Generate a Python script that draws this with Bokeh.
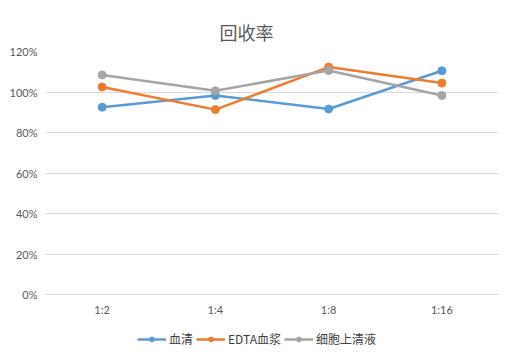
from bokeh.plotting import figure
from bokeh.layouts import column
from bokeh.models import ColumnDataSource, FactorRange, Range1d, FixedTicker, NumeralTickFormatter, Legend, LegendItem
from bokeh.embed import file_html
from bokeh.resources import INLINE

categories = ["1:2", "1:4", "1:8", "1:16"]
serum = [0.925, 0.983, 0.916, 1.105]
edta = [1.025, 0.913, 1.123, 1.044]
supernatant = [1.084, 1.006, 1.106, 0.983]
series_names = ["血清", "EDTA血浆", "细胞上清液"]
colors = ["#5B9BD5", "#ED7D31", "#A5A5A5"]
y_ticks = [0, 0.2, 0.4, 0.6, 0.8, 1.0, 1.2]

p = figure(width=505, height=318, output_backend="svg", toolbar_location=None,
           x_range=FactorRange(*categories, range_padding=0), y_range=Range1d(0, 1.2),
           min_border_left=45, min_border_right=7, min_border_top=51, min_border_bottom=23)
p.title.text = "回收率"
p.title.align = "left"
p.title.offset = 174
p.title.text_font = "Noto Sans CJK SC"
p.title.text_font_size = "18px"
p.title.text_font_style = "normal"
p.title.text_color = "#595959"
p.title.standoff = 14

p.outline_line_color = None
p.xgrid.grid_line_color = None
p.ygrid.grid_line_color = "#d9d9d9"
p.ygrid.grid_line_width = 1

p.yaxis.ticker = FixedTicker(ticks=y_ticks)
p.yaxis.formatter = NumeralTickFormatter(format="0%")
for ax in (p.xaxis, p.yaxis):
    ax.axis_line_color = None
    ax.major_tick_line_color = None
    ax.minor_tick_line_color = None
    ax.major_tick_out = 0
    ax.major_tick_in = 0
    ax.minor_tick_out = 0
    ax.minor_tick_in = 0
    ax.major_label_text_font = "Lato"
    ax.major_label_text_font_size = "11px"
    ax.major_label_text_color = "#595959"
p.xaxis.axis_line_color = "#d9d9d9"
p.xaxis.major_label_standoff = 8
p.yaxis.major_label_standoff = 8

# legend figure (its y range lies away from the data so only the legend shows)
lf = figure(width=505, height=32, output_backend="svg", toolbar_location=None,
            x_range=FactorRange(*categories, range_padding=0), y_range=Range1d(10, 11),
            min_border=0, x_axis_location=None, y_axis_location=None)
lf.outline_line_color = None
lf.grid.grid_line_color = None

items = []
for name, vals, c in zip(series_names, [serum, edta, supernatant], colors):
    src = ColumnDataSource(dict(x=categories, y=vals))
    p.line("x", "y", source=src, line_color=c, line_width=2.5)
    p.scatter("x", "y", source=src, size=8, fill_color=c, line_color=c)
    l = lf.line("x", "y", source=src, line_color=c, line_width=2.5)
    s = lf.scatter("x", "y", source=src, size=8, fill_color=c, line_color=c)
    items.append(LegendItem(label=name, renderers=[l, s]))

legend = Legend(items=items, orientation="horizontal", location=(92, 3),
                label_text_font="Noto Sans CJK SC", label_text_font_size="12px",
                label_text_color="#404040", glyph_width=29, glyph_height=12,
                label_standoff=3, spacing=3, padding=2, margin=0,
                border_line_color=None, background_fill_alpha=0)
lf.add_layout(legend, "center")

layout = column(p, lf, spacing=0)
open("out.html", "w").write(file_html(layout, INLINE))
